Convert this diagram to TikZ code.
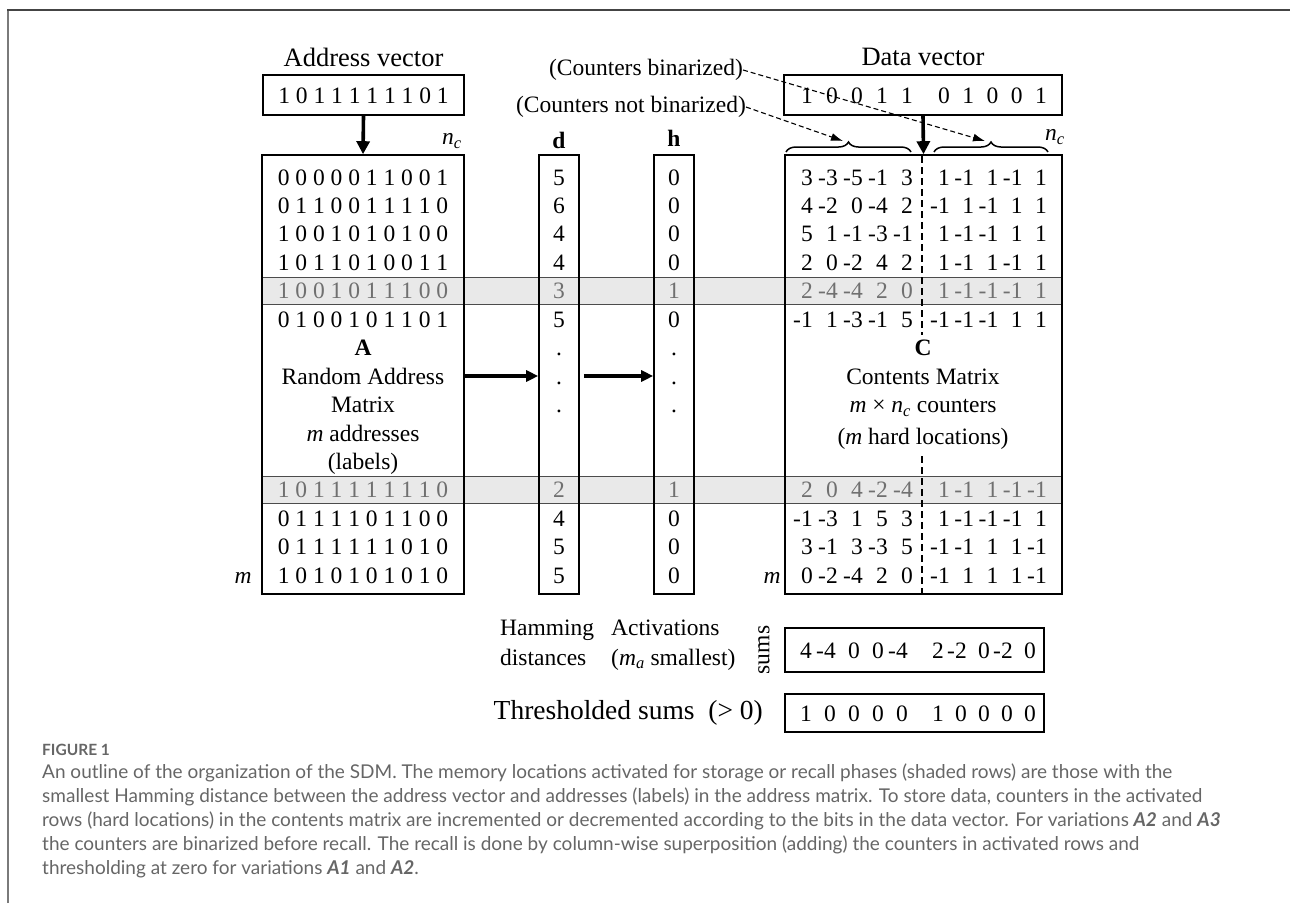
\documentclass[tikz,border=0pt]{standalone}
\usepackage{fontspec}
\setmainfont{Liberation Serif}
\newfontfamily\capfont{Lato}
\usetikzlibrary{arrows.meta,decorations.pathreplacing}
\definecolor{capgray}{HTML}{666666}
\definecolor{framegray}{HTML}{444444}
\definecolor{sidegray}{HTML}{7A7A7A}
\definecolor{bandfill}{HTML}{E9E9E9}
\definecolor{dimtext}{HTML}{707070}

% one row of the contents matrix: name prefix, baseline, extra style, ten values
\newcommand\cellrow[4]{%
  \foreach \v [count=\i] in {#4} {%
    \pgfmathsetmacro\cx{\i<6 ? 813+25*(\i-1) : 950+24.25*(\i-6)}%
    \node[txt,#3,anchor=base east] (#1-\i) at (\cx,#2) {\v};
  }}

\begin{document}
\begin{tikzpicture}[x=1pt,y=-1pt,
  boxed/.style={draw, line width=1.6pt, inner sep=0pt},
  txt/.style={font=\fontsize{23.5}{28}\selectfont, inner sep=0pt},
  ttl/.style={font=\fontsize{26.5}{30}\selectfont, inner sep=0pt},
  dim/.style={text=dimtext},
  band/.style={fill=bandfill, draw=black!70, line width=0.9pt},
  bigarrow/.style={line width=3.6pt, -{Triangle[length=13pt,width=13pt]}},
  midarrow/.style={line width=3.2pt, -{Triangle[length=12pt,width=11pt]}},
  pointer/.style={line width=1.1pt, dash pattern=on 5pt off 3pt, -{Latex[length=12pt,width=8pt]}},
  divider/.style={line width=2.8pt, dash pattern=on 7pt off 4pt},
  brc/.style={decorate, decoration={brace, amplitude=10pt}, line width=1.5pt},
  captxt/.style={font=\capfont\fontsize{19}{24}\selectfont, text=capgray, anchor=base west, inner sep=0pt},
]
\useasboundingbox (0,0) rectangle (1290,903);

% frame of the figure panel
\draw[sidegray, line width=2pt] (8,903) -- (8,10);
\draw[framegray, line width=2pt] (7,10) -- (1290,10);

% shaded (activated) rows
\foreach \k in {4,11}
  \draw[band] (262,{177+28.45*\k-13.5}) rectangle (1062,{177+28.45*\k+13.5});

% main boxes
\node[boxed, minimum width=202pt, minimum height=439pt] (A) at (363,374.5) {};
\node[boxed, minimum width=40pt, minimum height=439pt] (D) at (559,374.5) {};
\node[boxed, minimum width=40pt, minimum height=439pt] (H) at (674,374.5) {};
\node[boxed, minimum width=277pt, minimum height=439pt] (C) at (923.5,374.5) {};

% address vector
\node[ttl] (addrtitle) at (363.5,57) {Address vector};
\node[boxed, minimum width=201pt, minimum height=40pt] (addr) at (363.5,95) {};
\node[txt, anchor=base] (addrbits) at (363.5,103) {1 0 1 1 1 1 1 1 0 1};
\draw[bigarrow] (addr.south) -- (A.north);
\node[txt] (ncA) at (452,141) {\textit{n}\textsubscript{\textit{c}}};

% rows of the address matrix
\node[txt, anchor=base] (a0) at (363,185) {0 0 0 0 0 1 1 0 0 1};
\node[txt, anchor=base] (a1) at (363,213.45) {0 1 1 0 0 1 1 1 1 0};
\node[txt, anchor=base] (a2) at (363,241.9) {1 0 0 1 0 1 0 1 0 0};
\node[txt, anchor=base] (a3) at (363,270.35) {1 0 1 1 0 1 0 0 1 1};
\node[txt, anchor=base, dim] (a4) at (363,298.8) {1 0 0 1 0 1 1 1 0 0};
\node[txt, anchor=base] (a5) at (363,327.25) {0 1 0 0 1 0 1 1 0 1};
\node[txt, anchor=base] (aA) at (363,355.7) {\textbf{A}};
\node[txt, anchor=base] (aT1) at (363,384.15) {Random Address};
\node[txt, anchor=base] (aT2) at (363,412.6) {Matrix};
\node[txt, anchor=base] (aT3) at (363,441.05) {\textit{m} addresses};
\node[txt, anchor=base] (aT4) at (363,469.5) {(labels)};
\node[txt, anchor=base, dim] (a11) at (363,497.95) {1 0 1 1 1 1 1 1 1 0};
\node[txt, anchor=base] (a12) at (363,526.4) {0 1 1 1 1 0 1 1 0 0};
\node[txt, anchor=base] (a13) at (363,554.85) {0 1 1 1 1 1 1 0 1 0};
\node[txt, anchor=base] (a14) at (363,583.3) {1 0 1 0 1 0 1 0 1 0};
\node[txt, anchor=base] (mA) at (243,583.3) {\textit{m}};

% distance and activation columns
\node[txt, anchor=base] (dlab) at (559,148) {\textbf{d}};
\node[txt, anchor=base] (hlab) at (674,146) {\textbf{h}};
\foreach \k/\dv/\hv in {0/5/0,1/6/0,2/4/0,3/4/0,5/5/0,6/./.,7/./.,8/./.,12/4/0,13/5/0,14/5/0} {
  \node[txt, anchor=base] (d\k) at (559,{185+28.45*\k}) {\dv};
  \node[txt, anchor=base] (h\k) at (674,{185+28.45*\k}) {\hv};
}
\foreach \k/\dv/\hv in {4/3/1,11/2/1} {
  \node[txt, anchor=base, dim] (d\k) at (559,{185+28.45*\k}) {\dv};
  \node[txt, anchor=base, dim] (h\k) at (674,{185+28.45*\k}) {\hv};
}
\coordinate (r7) at (0,376);
\draw[midarrow] (A.east |- r7) -- (D.west |- r7);
\draw[midarrow, shorten <=4pt] (D.east |- r7) -- (H.west |- r7);

% data vector
\node[ttl] (datatitle) at (923,57) {Data vector};
\node[boxed, minimum width=278pt, minimum height=40pt] (data) at (923,95) {};
\cellrow{dv}{103}{}{1,0,0,1,1,0,1,0,0,1}
\draw[bigarrow] (data.south) -- (C.north);
\node[txt] (ncC) at (1055,137) {\textit{n}\textsubscript{\textit{c}}};

% braces over the two halves of the contents matrix
\draw[brc] (786,152) -- (911,152);
\draw[brc] (934,152) -- (1048,152);
\coordinate (tipL) at (843,141);
\coordinate (tipR) at (985,141);
\node[txt, anchor=east] (cb) at (743,70) {(Counters binarized)};
\node[txt, anchor=east] (cnb) at (746,107) {(Counters not binarized)};
\draw[pointer] (cb.east) -- (tipR);
\draw[pointer] (cnb.east) -- (tipL);

% divider between the two halves
\draw[divider] (922,156) -- (922,335);
\draw[divider] (922,456) -- (922,598);

% rows of the contents matrix
\cellrow{c0}{185}{}{3,-3,-5,-1,3,1,-1,1,-1,1}
\cellrow{c1}{213.45}{}{4,-2,0,-4,2,-1,1,-1,1,1}
\cellrow{c2}{241.9}{}{5,1,-1,-3,-1,1,-1,-1,1,1}
\cellrow{c3}{270.35}{}{2,0,-2,4,2,1,-1,1,-1,1}
\cellrow{c4}{298.8}{dim}{2,-4,-4,2,0,1,-1,-1,-1,1}
\cellrow{c5}{327.25}{}{-1,1,-3,-1,5,-1,-1,-1,1,1}
\cellrow{c11}{497.95}{dim}{2,0,4,-2,-4,1,-1,1,-1,-1}
\cellrow{c12}{526.4}{}{-1,-3,1,5,3,1,-1,-1,-1,1}
\cellrow{c13}{554.85}{}{3,-1,3,-3,5,-1,-1,1,1,-1}
\cellrow{c14}{583.3}{}{0,-2,-4,2,0,-1,1,1,1,-1}
\node[txt, anchor=base] (cC) at (923,355.7) {\textbf{C}};
\node[txt, anchor=base] (cT1) at (923,384.15) {Contents Matrix};
\node[txt, anchor=base] (cT2) at (923,412.6) {\textit{m} × \textit{n}\textsubscript{\textit{c}} counters};
\node[txt, anchor=base] (cT3) at (923,444) {(\textit{m} hard locations)};
\node[txt, anchor=base] (mC) at (772,583.3) {\textit{m}};

% labels under the columns
\node[txt, anchor=base west] (ham1) at (500,635) {Hamming};
\node[txt, anchor=base west] (ham2) at (500,665) {distances};
\node[txt, anchor=base west] (act1) at (611,635) {Activations};
\node[txt, anchor=base west] (act2) at (611,665) {(\textit{m}\textsubscript{\textit{a}} smallest)};

% recall: sums and thresholded sums
\node[txt, rotate=90] (sumslab) at (764,650) {sums};
\node[boxed, minimum width=259pt, minimum height=44pt] (sumsbox) at (914.5,650) {};
\node[boxed, minimum width=259pt, minimum height=38pt] (thrbox) at (914.5,713) {};
\foreach \v [count=\i] in {4,-4,0,0,-4,2,-2,0,-2,0} {
  \pgfmathsetmacro\cx{\i<6 ? 812+24*(\i-1) : 944+23*(\i-6)}
  \node[txt, anchor=base east] (s\i) at (\cx,658) {\v};
}
\foreach \v [count=\i] in {1,0,0,0,0,1,0,0,0,0} {
  \pgfmathsetmacro\cx{\i<6 ? 812+24*(\i-1) : 944+23*(\i-6)}
  \node[txt, anchor=base east] (t\i) at (\cx,721) {\v};
}
\node[font=\fontsize{27.5}{30}\selectfont, inner sep=0pt, anchor=base east] (thrlab) at (763,719) {Thresholded sums\ \ (> 0)};

% caption
\node[captxt, font=\capfont\bfseries\fontsize{15.5}{18}\selectfont] (fig) at (42,755) {FIGURE 1};
\node[captxt] (l1) at (42,778) {An outline of the organization of the SDM. The memory locations activated for storage or recall phases (shaded rows) are those with the};
\node[captxt] (l2) at (42,802) {smallest Hamming distance between the address vector and addresses (labels) in the address matrix. To store data, counters in the activated};
\node[captxt] (l3) at (42,826) {rows (hard locations) in the contents matrix are incremented or decremented according to the bits in the data vector. For variations \textbf{\textit{A2}} and \textbf{\textit{A3}}};
\node[captxt] (l4) at (42,850) {the counters are binarized before recall. The recall is done by column-wise superposition (adding) the counters in activated rows and};
\node[captxt] (l5) at (42,874) {thresholding at zero for variations \textbf{\textit{A1}} and \textbf{\textit{A2}}.};
\end{tikzpicture}
\end{document}
